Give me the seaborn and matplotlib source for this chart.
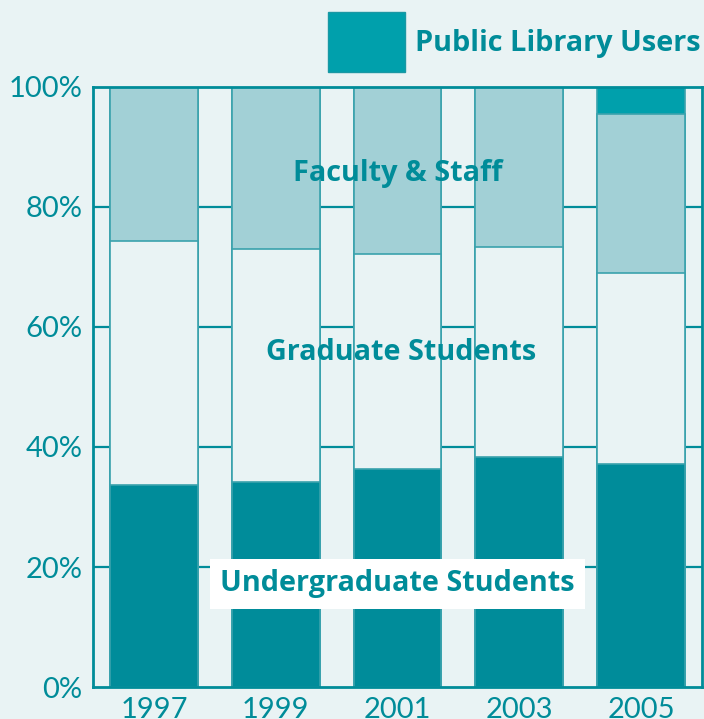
import numpy as np
import pandas as pd
import matplotlib
matplotlib.use("Agg")
import matplotlib.pyplot as plt
from matplotlib.patches import Rectangle
import seaborn as sns

# Values (percent of users)
years = ["1997", "1999", "2001", "2003", "2005"]
undergrad = [33.7, 34.1, 36.4, 38.4, 37.2]
graduate = [40.6, 38.9, 35.7, 34.9, 31.7]
faculty = [25.7, 27.0, 27.9, 26.7, 26.5]
public = [0.0, 0.0, 0.0, 0.0, 4.6]

# Colours
bg = "#e9f3f4"
teal_text = "#008c99"
c_under = "#008c9a"
c_grad = bg
c_fac = "#a2d0d6"
c_pub = "#00a0ac"
edge = "#3aa2ad"

sns.set_theme(style="white")
plt.rcParams["font.family"] = ["Lato", "DejaVu Sans"]
label_font = ["Open Sans", "DejaVu Sans"]

df = pd.DataFrame({"year": years, "under": undergrad, "grad": graduate,
                   "fac": faculty, "pub": public})
df["c_under"] = df["under"]
df["c_grad"] = df["c_under"] + df["grad"]
df["c_fac"] = df["c_grad"] + df["fac"]
df["c_pub"] = df["c_fac"] + df["pub"]

fig = plt.figure(figsize=(7.04, 7.19), dpi=100)
fig.patch.set_facecolor(bg)
ax = fig.add_axes([93 / 704, 1 - 687.3 / 719, 609 / 704, 600.8 / 719])
ax.set_facecolor(bg)

# stacked bars: draw cumulative totals, largest first
for col, color in [("c_pub", c_pub), ("c_fac", c_fac),
                   ("c_grad", c_grad), ("c_under", c_under)]:
    sns.barplot(data=df, x="year", y=col, color=color, width=0.72,
                edgecolor=edge, linewidth=1.2, saturation=1, ax=ax, zorder=2)

ax.set_xlim(-0.5, 4.5)
ax.set_ylim(0, 100)
ax.set_xlabel("")
ax.set_ylabel("")
ax.set_yticks([0, 20, 40, 60, 80, 100])
ax.set_yticklabels(["0%", "20%", "40%", "60%", "80%", "100%"])
ax.tick_params(axis="both", length=0, labelsize=21, labelcolor=teal_text)
ax.tick_params(axis="y", pad=7.5)
ax.tick_params(axis="x", pad=7)

ax.set_axisbelow(True)
ax.grid(False)
for yv in [20, 40, 60, 80]:
    ax.axhline(yv, color=teal_text, lw=1.6, zorder=0)
for sp in ax.spines.values():
    sp.set_color(teal_text)
    sp.set_linewidth(2)
    sp.set_zorder(3)

# in-chart category labels
lab = dict(ha="center", va="center", fontsize=20.8, fontweight="bold",
           color=teal_text, zorder=4, family=label_font)
ax.text(2.0, 85.6, "Faculty & Staff", **lab)
ax.text(2.03, 55.8, "Graduate Students", **lab)
ax.text(2.0, 17.2, "Undergraduate Students", **lab,
        bbox=dict(boxstyle="square,pad=0.36", fc="white", ec="none"))

# legend for the small top segment
fig.patches.append(Rectangle((328 / 704, 1 - 72 / 719), 77 / 704, 60 / 719,
                             transform=fig.transFigure, fc=c_pub,
                             ec="#1a98a4", lw=1))
fig.text(415 / 704, 1 - 43 / 719, "Public Library Users", ha="left",
         va="center", fontsize=20.8, fontweight="bold", color=teal_text,
         family=label_font)

fig.savefig("out.png", dpi=100, facecolor=bg)
